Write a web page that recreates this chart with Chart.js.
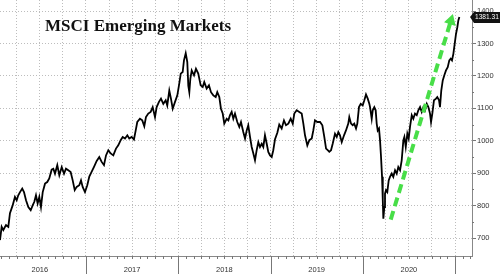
<!DOCTYPE html>
<html>
<head>
<meta charset="utf-8">
<script src="https://cdn.jsdelivr.net/npm/chart.js@4.4.1/dist/chart.umd.min.js"></script>
<style>
body{margin:0;background:#fff}
</style>
</head>
<body>
<canvas id="msci" width="500" height="274"></canvas>
<script>
// index level, dates as decimal years
let dates = [
2016.068,2016.086,2016.104,2016.133,2016.158,2016.176,2016.205,2016.230,2016.249,2016.266,
2016.285,2016.309,2016.328,2016.350,2016.375,2016.401,2016.422,2016.440,2016.458,2016.476,
2016.494,2016.512,2016.531,2016.556,2016.580,2016.602,2016.628,2016.646,2016.664,2016.689,
2016.711,2016.737,2016.762,2016.783,2016.808,2016.834,2016.856,2016.878,2016.899,2016.927,
2016.946,2016.964,2016.989,2017.014,2017.036,2017.062,2017.087,2017.116,2017.144,2017.170,
2017.195,2017.217,2017.242,2017.268,2017.296,2017.325,2017.350,2017.376,2017.398,2017.423,
2017.448,2017.469,2017.495,2017.520,2017.539,2017.556,2017.585,2017.610,2017.632,2017.650,
2017.675,2017.701,2017.723,2017.748,2017.766,2017.791,2017.813,2017.838,2017.864,2017.881,
2017.903,2017.921,2017.940,2017.965,2017.990,2018.011,2018.027,2018.048,2018.062,2018.081,
2018.098,2018.109,2018.120,2018.131,2018.146,2018.171,2018.192,2018.217,2018.243,2018.265,
2018.282,2018.308,2018.333,2018.355,2018.380,2018.406,2018.423,2018.445,2018.463,2018.482,
2018.499,2018.525,2018.543,2018.561,2018.579,2018.597,2018.615,2018.640,2018.662,2018.680,
2018.705,2018.724,2018.742,2018.759,2018.778,2018.796,2018.814,2018.832,2018.850,2018.868,
2018.886,2018.905,2018.922,2018.940,2018.959,2018.976,2018.995,2019.013,2019.030,2019.049,
2019.074,2019.095,2019.121,2019.146,2019.168,2019.193,2019.219,2019.241,2019.258,2019.284,
2019.312,2019.338,2019.356,2019.374,2019.399,2019.421,2019.447,2019.464,2019.482,2019.507,
2019.537,2019.562,2019.583,2019.602,2019.620,2019.637,2019.656,2019.674,2019.699,2019.718,
2019.735,2019.753,2019.772,2019.797,2019.818,2019.843,2019.854,2019.873,2019.891,2019.908,
2019.927,2019.941,2019.959,2019.978,2019.999,2020.017,2020.035,2020.054,2020.071,2020.079,
2020.097,2020.108,2020.125,2020.140,2020.151,2020.162,2020.176,2020.187,2020.198,2020.209,
2020.217,2020.223,2020.234,2020.241,2020.252,2020.266,2020.281,2020.295,2020.314,2020.331,
2020.350,2020.368,2020.385,2020.404,2020.422,2020.440,2020.451,2020.466,2020.483,2020.498,
2020.512,2020.531,2020.548,2020.566,2020.585,2020.602,2020.621,2020.639,2020.657,2020.675,
2020.694,2020.711,2020.729,2020.740,2020.754,2020.772,2020.794,2020.808,2020.827,2020.837,
2020.851,2020.867,2020.884,2020.902,2020.921,2020.938,2020.953,2020.967,2020.982,2020.997,
2021.011,2021.025,2021.036,2021.047
];
let values = [
694,735,725,740,735,777,801,827,817,832,
842,853,842,817,796,786,801,812,832,807,
827,796,842,868,873,884,911,914,899,925,
894,919,899,914,909,904,878,848,858,863,
878,858,842,863,890,905,920,938,950,935,
925,955,971,961,955,976,986,1002,1012,1007,
1017,1007,1012,1004,1032,1058,1068,1063,1045,1073,
1084,1089,1104,1073,1104,1120,1130,1114,1125,1109,
1155,1130,1099,1120,1140,1176,1207,1212,1248,1270,
1243,1170,1150,1191,1217,1202,1222,1207,1171,1166,
1181,1161,1171,1150,1140,1135,1150,1135,1099,1084,
1053,1068,1063,1079,1089,1068,1084,1058,1043,1058,
1027,1007,1032,1048,1012,981,961,940,971,996,
981,991,981,1017,991,966,955,950,971,1005,
1025,1050,1038,1063,1048,1053,1068,1053,1084,1094,
1089,1084,1053,1017,986,1002,1007,1032,1063,1058,
1058,1048,1012,976,971,966,971,991,1022,1012,
1027,1017,996,1017,1032,1053,1073,1053,1048,1053,
1038,1053,1104,1114,1109,1125,1143,1130,1114,1104,
1068,1094,1104,1094,1053,1032,1038,1002,950,889,
817,760,796,837,848,842,878,889,899,889,
909,899,919,909,940,1002,1012,981,1022,1007,
1043,1079,1068,1084,1079,1094,1104,1089,1104,1094,
1114,1104,1084,1058,1084,1125,1130,1135,1125,1104,
1155,1186,1202,1217,1227,1248,1253,1248,1268,1300,
1330,1350,1371,1381.31
];
// green trend arrow (start, tip)
let arrowDates = [2020.303, 2020.955];
let arrowValues = [757, 1370];

let yTicks = [700,800,900,1000,1100,1200,1300,1400];
let yearLabels = [2016,2017,2018,2019,2020];
let title = 'MSCI Emerging Markets';
let lastLabel = '1381.31';

let xMin = 2016.068, xMax = 2021.184;
let yMin = 645, yMax = 1434;

let quarters = [];
for(let q = 2016.25; q <= 2021.01; q += 0.25){ quarters.push(+q.toFixed(2)) }

let extras = {
	id:'extras',
	afterDraw:chart=>{
		const ctx = chart.ctx, a = chart.chartArea, x = chart.scales.x, y = chart.scales.y;
		ctx.save();
		// month ticks + year separators
		ctx.strokeStyle = '#777';
		ctx.lineWidth = 1;
		for(let yr = 2016; yr <= 2021; yr++){
			for(let m = 0; m < 12; m++){
				let v = yr + m/12;
				if(v < xMin || v > xMax) continue;
				let px = Math.round(x.getPixelForValue(v)) + 0.5;
				ctx.beginPath();
				ctx.moveTo(px, a.bottom);
				ctx.lineTo(px, m===0 ? 274 : a.bottom + 3);
				ctx.stroke();
			}
		}
		// minor ticks on value axis
		for(let v = 750; v < 1400; v += 100){
			let py = Math.round(y.getPixelForValue(v)) + 0.5;
			ctx.beginPath();
			ctx.moveTo(a.right, py);
			ctx.lineTo(a.right + 2, py);
			ctx.stroke();
		}
		// last value tag
		let py = Math.round(y.getPixelForValue(values[values.length-1]));
		ctx.fillStyle = '#111';
		ctx.beginPath();
		ctx.moveTo(a.right - 2, py);
		ctx.lineTo(a.right + 2, py - 5);
		ctx.lineTo(500, py - 5);
		ctx.lineTo(500, py + 6);
		ctx.lineTo(a.right + 2, py + 6);
		ctx.closePath();
		ctx.fill();
		ctx.fillStyle = '#fff';
		ctx.font = '6.6px "Liberation Sans"';
		ctx.textBaseline = 'middle';
		ctx.textAlign = 'left';
		ctx.fillText(lastLabel, a.right + 3, py + 0.5);
		// title
		ctx.fillStyle = '#111';
		ctx.font = 'bold 17px "Liberation Serif"';
		ctx.textBaseline = 'alphabetic';
		ctx.fillText(title, 45, 31);
		ctx.restore();
	}
}

new Chart(document.getElementById('msci'), {
	type:'line',
	data:{
		datasets:[{
			data:arrowDates.map((d,i)=>({x:d, y:arrowValues[i]})),
			borderColor:'#48de48',
			backgroundColor:'#48de48',
			borderWidth:4,
			borderDash:[9,5],
			pointRadius:[0,7],
			pointStyle:'triangle',
			pointRotation:17,
			pointBorderWidth:0
		},{
			data:dates.map((d,i)=>({x:d, y:values[i]})),
			borderColor:'#000',
			borderWidth:1.8,
			pointRadius:0,
			tension:0
		}]
	},
	options:{
		responsive:false,
		animation:false,
		devicePixelRatio:1,
		layout:{padding:0, autoPadding:false},
		plugins:{legend:{display:false}, tooltip:{enabled:false}},
		scales:{
			x:{
				type:'linear', min:xMin, max:xMax,
				afterBuildTicks:s=>{ s.ticks = quarters.map(v=>({value:v})) },
				afterFit:s=>{ s.height = 18; s.paddingLeft = 0; s.paddingRight = 0 },
				grid:{color:'#bdbdbd', drawTicks:false},
				border:{color:'#888', dash:[1,2]},
				ticks:{
					autoSkip:false, maxRotation:0, padding:9,
					color:'#333', font:{family:'"Liberation Sans"', size:7.5},
					callback:v=>{
						let yr = Math.floor(v + 0.001);
						return Math.abs(v - yr - 0.5) < 0.01 && yearLabels.includes(yr) ? String(yr) : '';
					}
				}
			},
			y:{
				position:'right', min:yMin, max:yMax,
				afterBuildTicks:s=>{ s.ticks = yTicks.map(v=>({value:v})) },
				afterFit:s=>{ s.width = 28; s.paddingTop = 0; s.paddingBottom = 0 },
				grid:{color:'#bdbdbd', drawTicks:true, tickLength:4, tickColor:'#777', tickBorderDash:[]},
				border:{color:'#888', dash:[1,2]},
				ticks:{
					padding:1, color:'#333', font:{family:'"Liberation Sans"', size:7.5},
					callback:v=>String(v)
				}
			}
		}
	},
	plugins:[extras]
});
</script>
</body>
</html>
